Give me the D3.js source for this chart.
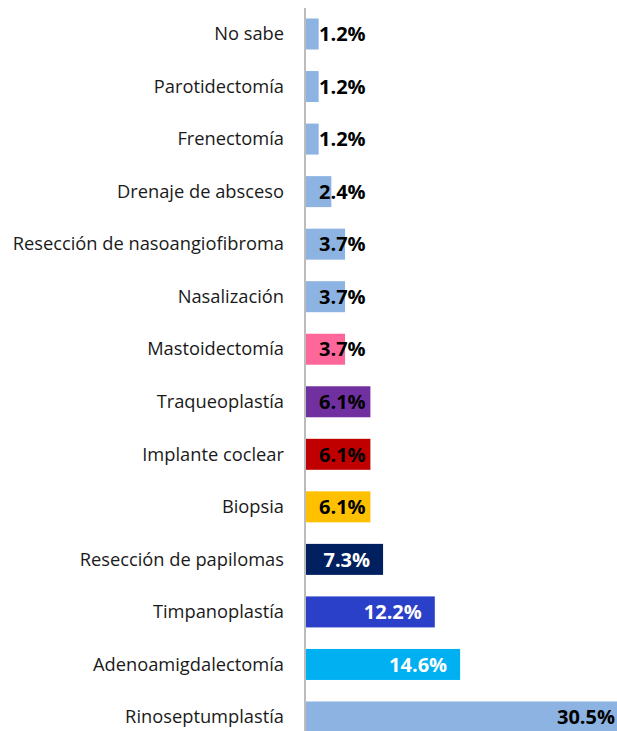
<!DOCTYPE html>
<html>
<head>
<meta charset="utf-8">
<script src="https://cdn.jsdelivr.net/npm/d3@7"></script>
<style>
  html, body { margin: 0; padding: 0; background: #fff; }
  svg { display: block; }
</style>
</head>
<body>
<div id="chart"></div>
<script>
// categories top to bottom
const categories = [
  "No sabe", "Parotidectomía", "Frenectomía", "Drenaje de absceso",
  "Resección de nasoangiofibroma", "Nasalización", "Mastoidectomía",
  "Traqueoplastía", "Implante coclear", "Biopsia", "Resección de papilomas",
  "Timpanoplastía", "Adenoamigdalectomía", "Rinoseptumplastía"
];
const values = [1.2, 1.2, 1.2, 2.4, 3.7, 3.7, 3.7, 6.1, 6.1, 6.1, 7.3, 12.2, 14.6, 30.5];
const barColors = [
  "#8DB3E2", "#8DB3E2", "#8DB3E2", "#8DB3E2", "#8DB3E2", "#8DB3E2", "#FF6699",
  "#7030A0", "#C00000", "#FFC000", "#002060", "#2B40C8", "#00B0F0", "#8DB3E2"
];
const labelColors = [
  "#000", "#000", "#000", "#000", "#000", "#000", "#000",
  "#000", "#000", "#000", "#fff", "#fff", "#fff", "#000"
];

const width = 617, height = 731;
const data = categories.map((c, i) => ({ cat: c, val: values[i], color: barColors[i], lab: labelColors[i] }));

const svg = d3.select("#chart").append("svg")
  .attr("width", width)
  .attr("height", height);

const x = d3.scaleLinear().domain([0, 30.5]).range([306, 628]);
const y = d3.scaleBand().domain(categories).range([8, 743])
  .paddingInner(0.41).paddingOuter(0.2);

// bars
svg.append("g").selectAll("rect")
  .data(data)
  .enter()
  .append("rect")
  .attr("x", x(0))
  .attr("y", d => y(d.cat))
  .attr("width", d => x(d.val) - x(0))
  .attr("height", y.bandwidth())
  .attr("fill", d => d.color);

// category axis
const axis = svg.append("g")
  .attr("transform", `translate(${x(0) - 1},0)`)
  .call(d3.axisLeft(y).tickSize(0).tickPadding(21));
axis.select(".domain").remove();
axis.append("line")
  .attr("y1", 8).attr("y2", height)
  .attr("stroke", "#a6a6a6").attr("stroke-width", 1.5);
axis.selectAll("text")
  .attr("font-family", "'Open Sans', sans-serif")
  .attr("font-size", "18.3px")
  .attr("fill", "#1a1a1a")
  .attr("dy", "0.34em");

// value labels
const vl = svg.append("g").selectAll("text")
  .data(data)
  .enter()
  .append("text")
  .text(d => d.val.toFixed(1) + "%")
  .attr("font-family", "'Open Sans', sans-serif")
  .attr("font-weight", "bold")
  .attr("font-size", "20px")
  .attr("fill", d => d.lab)
  .attr("text-anchor", "end")
  .attr("y", d => y(d.cat) + y.bandwidth() / 2)
  .attr("dy", "0.36em");

vl.attr("x", function(d) {
  const w = this.getComputedTextLength();
  return Math.max(x(d.val) - 13, x(0) + 13 + w);
});
</script>
</body>
</html>
